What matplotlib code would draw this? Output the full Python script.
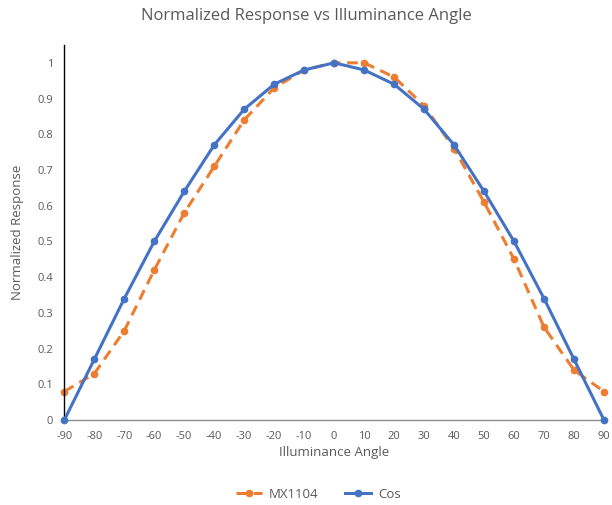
import matplotlib.pyplot as plt

plt.rcParams["font.family"] = ["Open Sans", "DejaVu Sans"]

angles = [-90, -80, -70, -60, -50, -40, -30, -20, -10, 0, 10, 20, 30, 40, 50, 60, 70, 80, 90]
mx1104 = [0.08, 0.13, 0.25, 0.42, 0.58, 0.71, 0.84, 0.93, 0.98, 1.0, 1.0, 0.96, 0.88, 0.76, 0.61, 0.45, 0.26, 0.14, 0.08]
cos_vals = [0.0, 0.17, 0.34, 0.5, 0.64, 0.77, 0.87, 0.94, 0.98, 1.0, 0.98, 0.94, 0.87, 0.77, 0.64, 0.5, 0.34, 0.17, 0.0]
y_ticks = [0, 0.1, 0.2, 0.3, 0.4, 0.5, 0.6, 0.7, 0.8, 0.9, 1]
y_labels = ["0", "0.1", "0.2", "0.3", "0.4", "0.5", "0.6", "0.7", "0.8", "0.9", "1"]

orange = "#ED7D31"
blue = "#4472C4"
grey = "#595959"

fig = plt.figure(figsize=(6.12, 5.05), dpi=100)
ax = fig.add_axes([0.105, 0.168, 0.882, 0.743])

ax.plot(angles, mx1104, color=orange, lw=2.2, ls=(0, (3.5, 2.2)), marker="o", ms=4.5,
        label="MX1104", zorder=2)
ax.plot(angles, cos_vals, color=blue, lw=2.2, marker="o", ms=4.5, label="Cos", zorder=3)

ax.set_xlim(-90, 90)
ax.set_ylim(0, 1.05)
ax.set_xticks(angles)
ax.set_xticklabels([str(a) for a in angles])
ax.set_yticks(y_ticks)
ax.set_yticklabels(y_labels)
ax.tick_params(axis="both", length=0, labelsize=8, colors=grey, pad=8)

for s in ["top", "right"]:
    ax.spines[s].set_visible(False)
ax.spines["left"].set_color("black")
ax.spines["left"].set_linewidth(1.0)
ax.spines["bottom"].set_color("#8c8c8c")
ax.spines["bottom"].set_linewidth(1.0)
for line in ax.get_lines():
    line.set_clip_on(False)

ax.set_xlabel("Illuminance Angle", fontsize=9.5, color=grey, labelpad=3)
ax.set_ylabel("Normalized Response", fontsize=9.5, color=grey, labelpad=10)
fig.suptitle("Normalized Response vs Illuminance Angle", fontsize=12, color=grey, y=0.985)

fig.legend(loc="lower center", bbox_to_anchor=(0.52, -0.015), ncol=2, frameon=False,
           fontsize=9.5, labelcolor=grey, handlelength=2.0, handletextpad=0.5,
           columnspacing=2.0)

fig.savefig("out.png", dpi=100)
